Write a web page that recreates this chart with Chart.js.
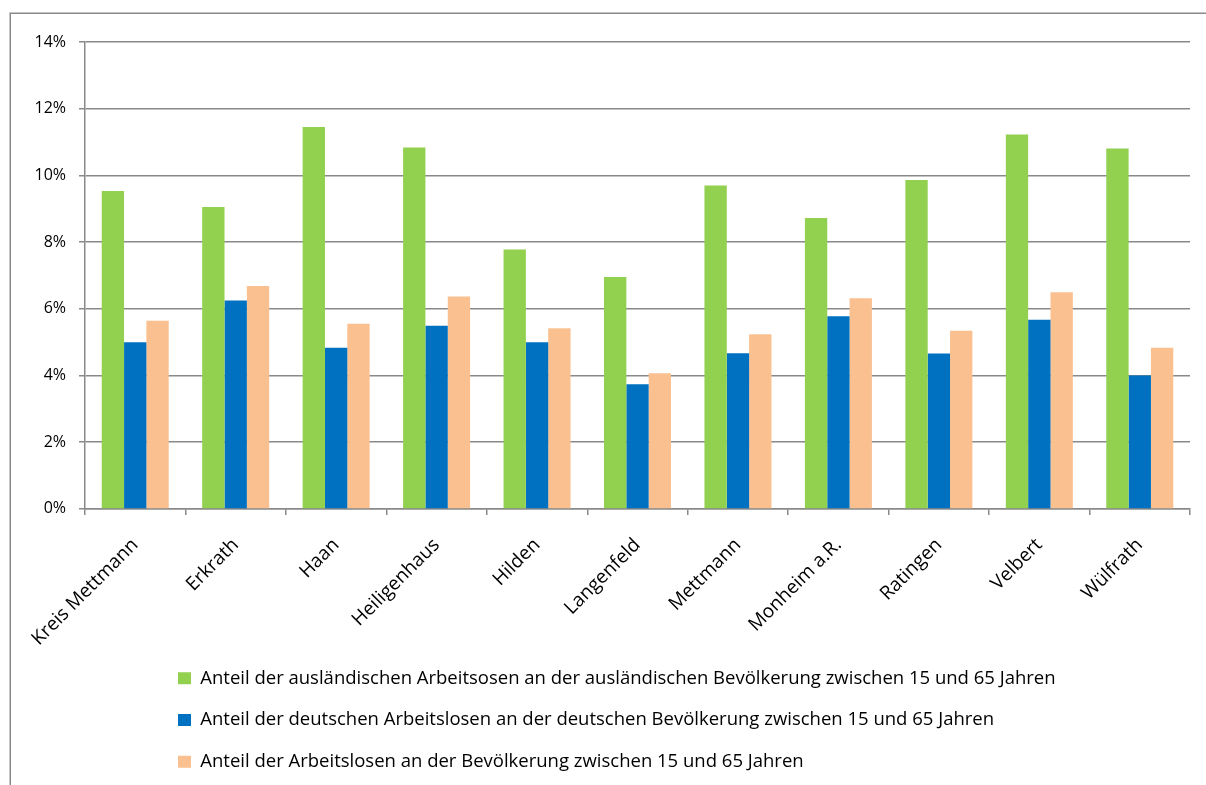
<!DOCTYPE html>
<html>
<head>
<meta charset="utf-8">
<script src="https://cdn.jsdelivr.net/npm/chart.js@4/dist/chart.umd.min.js"></script>
<style>
html,body{margin:0;padding:0;background:#fff;}
canvas{display:block;}
</style>
</head>
<body>
<canvas id="c" width="1206" height="785"></canvas>
<script>
const categories = ["Kreis Mettmann","Erkrath","Haan","Heiligenhaus","Hilden","Langenfeld","Mettmann","Monheim a.R.","Ratingen","Velbert","Wülfrath"];
const seriesNames = [
  "Anteil der ausländischen Arbeitsosen an der ausländischen Bevölkerung zwischen 15 und 65 Jahren",
  "Anteil der deutschen Arbeitslosen an der deutschen Bevölkerung zwischen 15 und 65 Jahren",
  "Anteil der Arbeitslosen an der Bevölkerung zwischen 15 und 65 Jahren"
];
const auslaender = [9.53, 9.05, 11.45, 10.84, 7.78, 6.95, 9.70, 8.72, 9.86, 11.23, 10.81];
const deutsche   = [5.00, 6.25, 4.83, 5.49, 5.00, 3.74, 4.67, 5.78, 4.66, 5.67, 4.00];
const gesamt     = [5.64, 6.68, 5.55, 6.37, 5.42, 4.07, 5.24, 6.32, 5.34, 6.50, 4.83];
const yTicks = [0, 2, 4, 6, 8, 10, 12, 14];
const colors = ["#92D050", "#0070C0", "#FAC090"];

const GRAY = "#898989";
Chart.defaults.font.family = "'Open Sans', sans-serif";
Chart.defaults.color = "#000";

const frame = {
  id: "frame",
  beforeDraw(chart) {
    const ctx = chart.ctx;
    ctx.save();
    ctx.fillStyle = "#fff";
    ctx.fillRect(0, 0, chart.width, chart.height);
    ctx.strokeStyle = GRAY;
    ctx.lineWidth = 1.5;
    ctx.strokeRect(10.25, 13.25, 1400, 1000);
    ctx.restore();
  },
  afterLayout(chart) {
    const lg = chart.legend;
    if (lg) { lg.left = 178 - lg.options.labels.padding; }
  }
};

new Chart(document.getElementById("c"), {
  type: "bar",
  data: {
    labels: categories,
    datasets: [
      { label: seriesNames[0], data: auslaender, backgroundColor: colors[0] },
      { label: seriesNames[1], data: deutsche, backgroundColor: colors[1] },
      { label: seriesNames[2], data: gesamt, backgroundColor: colors[2] }
    ]
  },
  options: {
    responsive: false,
    animation: false,
    datasets: { bar: { categoryPercentage: 0.667, barPercentage: 1.0 } },
    layout: { padding: { left: 10, top: 42, right: 16, bottom: 4 } },
    plugins: {
      tooltip: { enabled: false },
      legend: {
        position: "bottom",
        align: "start",
        labels: {
          boxWidth: 13,
          boxHeight: 12,
          padding: 23.2,
          font: { size: 18.5 },
          color: "#000"
        }
      }
    },
    scales: {
      x: {
        grid: { display: true, drawOnChartArea: false, drawTicks: true, tickLength: 6, color: GRAY, lineWidth: 1.5 },
        border: { color: GRAY, width: 1.5 },
        ticks: { minRotation: 45, maxRotation: 45, padding: 19, font: { size: 19 }, color: "#000", autoSkip: false },
        afterFit(s) { s.height = 137; }
      },
      y: {
        min: 0, max: 14,
        afterBuildTicks(s) { s.ticks = yTicks.map(v => ({ value: v })); },
        grid: { color: GRAY, lineWidth: 1.5, tickLength: 6, drawTicks: true },
        border: { color: GRAY, width: 1.5 },
        ticks: { padding: 13, font: { size: 16 }, color: "#000", callback: v => v + "%" },
        afterFit(s) { s.width = 75; }
      }
    }
  },
  plugins: [frame]
});
</script>
</body>
</html>
